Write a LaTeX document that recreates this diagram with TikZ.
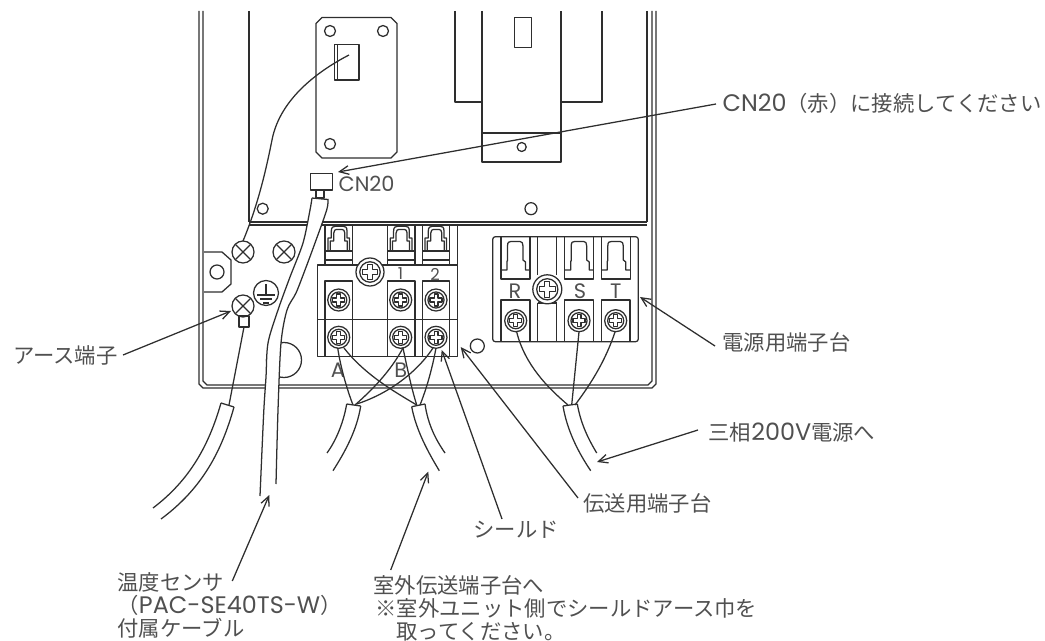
\documentclass[tikz,border=0pt]{standalone}
\usepackage{fontspec}
\setmainfont{Noto Sans CJK JP}
\newfontfamily\latn[Scale=1.12]{Poppins}
\usetikzlibrary{arrows.meta}
\definecolor{ink}{HTML}{2E2E2E}
\definecolor{txt}{HTML}{505050}
\newcommand{\myscrew}[3]{%
  \begin{scope}[shift={(#1,#2)}]
    \draw[fill=white] (0,0) circle[radius=#3];
    \draw (0,0) circle[radius=0.73*#3];
    \draw (-0.17*#3,-0.55*#3) -- (0.17*#3,-0.55*#3) -- (0.17*#3,-0.17*#3) -- (0.55*#3,-0.17*#3) -- (0.55*#3,0.17*#3) -- (0.17*#3,0.17*#3) -- (0.17*#3,0.55*#3) -- (-0.17*#3,0.55*#3) -- (-0.17*#3,0.17*#3) -- (-0.55*#3,0.17*#3) -- (-0.55*#3,-0.17*#3) -- (-0.17*#3,-0.17*#3) -- cycle;
  \end{scope}}
\newcommand{\myxscrew}[2]{%
  \draw (#1,#2) circle[radius=11];
  \draw (#1-7.5,#2-7.5) -- (#1+7.5,#2+7.5) (#1-7.5,#2+7.5) -- (#1+7.5,#2-7.5);}
\newcommand{\myclipA}[1]{% transmission-block clip, #1 = left edge of 27 px column
  \begin{scope}[xshift=#1*0.75pt]
    \draw (0,251) -- (27,251) (0,260) -- (27,260);
    \draw (2.7,251) -- (2.7,238) -- (6,238) -- (6,231) .. controls (6,227) and (8,226.3) .. (10,226.3) -- (18,226.3) .. controls (20,226.3) and (21.7,227) .. (21.7,231) -- (21.7,238) -- (24.3,238) -- (24.3,251);
    \draw (5,251) -- (5,241) -- (8.5,241) -- (8.5,233) .. controls (8.5,230.5) and (10,229.5) .. (11,229.5) -- (17,229.5) .. controls (18,229.5) and (19.5,230.5) .. (19.5,233) -- (19.5,241) -- (22,241) -- (22,251);
  \end{scope}}
\newcommand{\myclipB}[1]{% power-block clip, #1 = left edge of 29 px column
  \begin{scope}[xshift=#1*0.75pt]
    \draw (0,236.7) -- (0,279) -- (29,279) -- (29,236.7);
    \draw (0,270) -- (6,270) -- (6,261) -- (6.5,261) -- (6.5,246) .. controls (6.5,242) and (8,241.5) .. (10,241.5) -- (19,241.5) .. controls (21,241.5) and (22,243) .. (22,246) -- (22,260) -- (24.5,262) -- (24.5,270) -- (29,270);
  \end{scope}}
\tikzset{
  lbl/.style={inner sep=0pt, anchor=west, text=txt, font=\fontsize{16}{16}\selectfont},
  marktxt/.style={inner sep=0pt, text=txt, font=\fontsize{14}{15}\latn},
  smalltxt/.style={inner sep=0pt, text=txt, font=\fontsize{11}{12}\latn},
  leader/.style={-{Straight Barb[length=7pt,width=6.5pt,line width=0.95pt]}, line width=0.95pt},
}
\begin{document}
\begin{tikzpicture}[x=0.75pt,y=-0.75pt,line width=0.95pt,color=ink,line join=round]
\useasboundingbox (0,0) rectangle (1045,641);

% enclosure
\draw (199,11) -- (199,384) -- (203,388) -- (652,388) -- (656,384) -- (656,11);
\draw (203,11) -- (203,381) -- (207,385) -- (648,385) -- (652,381) -- (652,11);
\draw (249,11) -- (249,222) (647,11) -- (647,222);
\draw (249,222) -- (647,222) (249,225) -- (647,225);

% upper mounting plate
\draw (322,17.5) -- (391,17.5) -- (397,23.5) -- (397,152) -- (391,158) -- (322,158) -- (316,152) -- (316,23.5) -- cycle;
\draw (330,31) circle[radius=5.5] (383,31) circle[radius=5.5] (330,144) circle[radius=5.5];
\draw (334.5,44.5) rectangle (359,80) (337.6,44.5) -- (337.6,80);

% upper right bracket
\draw (455,11) -- (455,102) -- (482,102) (482,11) -- (482,162) -- (561,162) -- (561,11) (561,102) -- (602,102) -- (602,11);
\draw (482,133) -- (561,133);
\draw (514.7,17.7) rectangle (531.7,47.7);
\draw (521.7,147) circle[radius=4.5];
\draw (531,208.7) circle[radius=6] (262.7,208.7) circle[radius=5.5];

% left lug and earth
\draw (204,252) -- (222,252) -- (231,260) -- (231,284) -- (222,292) -- (204,292);
\draw (217,272) circle[radius=7];
\myxscrew{243}{252}
\myxscrew{284}{252}
\myxscrew{243}{306}
\draw (266,293) circle[radius=12.5];
\draw (266,284) -- (266,295) (257,295) -- (275,295) (260,299) -- (272,299) (263,303) -- (269,303);
\draw (239,316) rectangle (249,327);

% knockout circle, hidden under the sensor cable
\draw (284,360) circle[radius=17.5];

% sensor cable
\fill[white] plot[smooth] coordinates {(312,198) (310,210) (303,243) (290,277) (278,310) (268,343) (266,377) (264,407) (262,450) (260,496)} -- plot[smooth] coordinates {(276,484) (278,410) (281,343) (287,310) (296,293) (305,270) (315,243) (326.7,210) (328,199)} -- cycle;
\draw plot[smooth] coordinates {(312,198) (310,210) (303,243) (290,277) (278,310) (268,343) (266,377) (264,407) (262,450) (260,496)};
\draw plot[smooth] coordinates {(328,199) (326.7,210) (315,243) (305,270) (296,293) (287,310) (281,343) (278,410) (276,484)};
\draw (312,198) -- (328,199.5);
\draw (316,190) rectangle (324,198);
\draw (310.7,173.7) rectangle (332.7,190);
\node[marktxt,anchor=west] (cnlabel) at (338,183.5) {CN20};

% transmission terminal block
\draw (317.7,265) rectangle (457.7,356.7);
\draw (317.7,319.3) -- (457.7,319.3);
\foreach \xa in {325,352.7,387.3,415,422.3,449.3,457.7} \draw (\xa,225) -- (\xa,265);
\draw (325,356.7) -- (325,281) -- (352.7,281) -- (352.7,356.7);
\draw (387.3,356.7) -- (387.3,281) -- (415,281) -- (415,356.7);
\draw (422.3,356.7) -- (422.3,281) -- (449.3,281) -- (449.3,356.7);
\myclipA{325.3}
\myclipA{387.6}
\myclipA{422.3}
\myscrew{370}{272}{14}
\node[smalltxt] (n1) at (400.5,274) {1};
\node[smalltxt] (n2) at (435,274) {2};
\foreach \xa in {338.7,400.7,436} {\myscrew{\xa}{300}{11}\myscrew{\xa}{337.3}{11}}
\node[marktxt] (mA) at (338,370) {A};
\node[marktxt] (mB) at (400.7,370) {B};
\draw (477.3,346) circle[radius=7];

% power terminal block
\draw[rounded corners=2pt] (492.7,236.7) rectangle (638.3,341.7);
\myclipB{501}
\myclipB{564.7}
\myclipB{601.3}
\draw (537.7,236.7) -- (537.7,275) (556.7,236.7) -- (556.7,275) (537.7,303) -- (537.7,341.7) (556.7,303) -- (556.7,341.7) (537.7,303) -- (556.7,303);
\foreach \xa/\xb in {501/530,564.7/593.3,601.3/630} \draw (\xa,341.7) -- (\xa,300) -- (\xb,300) -- (\xb,341.7);
\myscrew{547.3}{289.3}{14.5}
\myscrew{515.7}{320.7}{11}
\myscrew{579}{320.7}{11}
\myscrew{615.7}{320.7}{11}
\node[marktxt] (mR) at (515,291) {R};
\node[marktxt] (mS) at (580,291) {S};
\node[marktxt] (mT) at (615.7,291) {T};

% wires
\draw (349,55) .. controls (320,70) and (280,98) .. (272,140) .. controls (266,170) and (258,205) .. (243,241);
\draw (244,327) -- (229,405);
\draw (337.7,348) .. controls (341,370) and (348,392) .. (353,405);
\draw (344,348) .. controls (365,375) and (395,392) .. (416.7,405);
\draw (403,348) .. controls (390,372) and (372,390) .. (355,405);
\draw (403,348) .. controls (408,372) and (412,390) .. (416.7,405);
\draw (433,348) .. controls (415,375) and (385,395) .. (356.7,404);
\draw (436,348) .. controls (432,370) and (426,390) .. (420,405);
\draw (516.7,332) .. controls (525,365) and (548,388) .. (568,405);
\draw (579,332) -- (571.7,405);
\draw (615,332) .. controls (605,362) and (590,385) .. (575,405);

% cables
\draw (221,403) -- (234,407);
\draw (221,403) .. controls (209,445) and (190,480) .. (153,508);
\draw (234,407) .. controls (222,450) and (203,488) .. (161,519);
\draw (346.7,404) -- (360.7,406);
\draw (346.7,404) .. controls (343,425) and (335,442) .. (327,453);
\draw (360.7,406) .. controls (357,430) and (345,452) .. (333,470.7);
\draw (411.7,406.7) -- (425,404);
\draw (411.7,406.7) .. controls (416,430) and (428,452) .. (439.3,470.7);
\draw (425,404) .. controls (428,425) and (436,440) .. (445,453);
\draw (563,406) -- (577.3,404);
\draw (563,406) .. controls (567,430) and (578,452) .. (590.7,470.7);
\draw (577.3,404) .. controls (581,425) and (589,440) .. (596.7,453);

% labels
\node[lbl] (cnnote) at (722,103.5) {{\latn CN20}（赤）に接続してください};
\node[lbl] (power) at (722,342) {電源用端子台};
\node[lbl] (phase) at (708,432) {三相{\latn 200V}電源へ};
\node[lbl] (trans) at (583,503) {伝送用端子台};
\node[lbl] (shield) at (473,530) {シールド};
\node[lbl] (earth) at (12.5,355) {アース端子};
\node[lbl] (sensA) at (117,582) {温度センサ};
\node[lbl] (sensB) at (117,605) {（{\latn PAC-SE40TS-W}）};
\node[lbl] (sensC) at (117,628) {付属ケーブル};
\node[lbl] (outA) at (373,585) {室外伝送端子台へ};
\node[lbl] (outB) at (375,608) {※室外ユニット側でシールドアース巾を};
\node[lbl] (outC) at (396,632) {取ってください。};

% leaders
\coordinate (t1) at (716,104); \coordinate (h1) at (338,172);
\coordinate (t2) at (715,346); \coordinate (h2) at (640,297);
\coordinate (t3) at (698,430); \coordinate (h3) at (597,462);
\coordinate (t4) at (578,498); \coordinate (h4) at (460.7,347);
\coordinate (t5) at (502,519); \coordinate (h5) at (441.7,350);
\coordinate (t6) at (123,355); \coordinate (h6) at (231,311);
\coordinate (t7) at (232.3,581); \coordinate (h7) at (269.3,495);
\coordinate (t8) at (390.7,570); \coordinate (h8) at (428.3,471.7);
\foreach \a/\b in {t1/h1,t2/h2,t3/h3,t4/h4,t5/h5,t6/h6,t7/h7,t8/h8} \draw[leader] (\a) -- (\b);
\end{tikzpicture}
\end{document}
